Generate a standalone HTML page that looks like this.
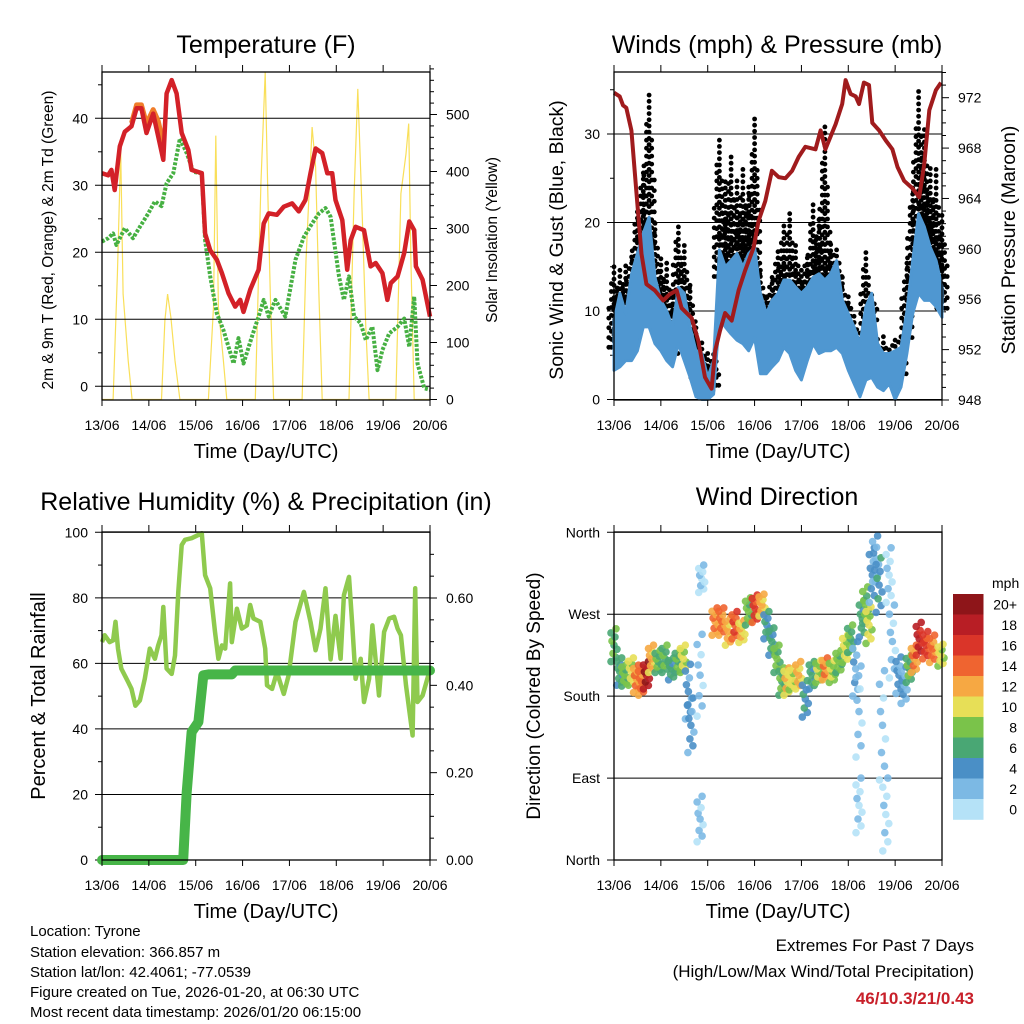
<!DOCTYPE html>
<html><head><meta charset="utf-8"><title>Station Meteogram</title>
<style>
html,body{margin:0;padding:0;background:#fff;}
svg{display:block;font-family:"Liberation Sans",Arial,sans-serif;}
</style></head>
<body>
<svg id="fig" xmlns="http://www.w3.org/2000/svg" width="1024" height="1024" viewBox="0 0 1024 1024">
<rect x="0" y="0" width="1024" height="1024" fill="#fff"/>
<g id="p1"></g>
<g id="p2"></g>
<g id="p3"></g>
<g id="p4"></g>
<g font-size="15" fill="#000">
<text x="30" y="936">Location: Tyrone</text>
<text x="30" y="957">Station elevation: 366.857 m</text>
<text x="30" y="977">Station lat/lon: 42.4061; -77.0539</text>
<text x="30" y="997">Figure created on Tue, 2026-01-20, at 06:30 UTC</text>
<text x="30" y="1017">Most recent data timestamp: 2026/01/20 06:15:00</text>
</g>
<g text-anchor="end">
<text x="974" y="951" font-size="17">Extremes For Past 7 Days</text>
<text x="974" y="977" font-size="17">(High/Low/Max Wind/Total Precipitation)</text>
<text x="974" y="1004" font-size="17" font-weight="bold" fill="#c8202a">46/10.3/21/0.43</text>
</g>
</svg>
<script>
// ---------- DATA ----------
const dayLabels = ["13/06","14/06","15/06","16/06","17/06","18/06","19/06","20/06"];
// Temperature (red, 2m)
const tempHours = [0,3.1,4.8,6.5,9.1,11.7,15.1,17.7,20.2,22.8,26.2,28.8,31.4,33.1,35.7,38.2,40.8,44.2,45.9,51.1,52.8,55.4,58.8,61.4,64.8,68.2,70.8,72.5,75.9,80.2,82.8,85.4,89.6,93.1,97.4,100.8,104.2,106.8,109.4,112.8,115.4,117.9,119.6,123.1,125.6,127.4,129.9,134.2,137.6,140.2,143.6,146.2,147.9,151.4,154.8,157.4,159.9,160.8,164.2,168];
const tempValues = [31.8,31.5,32.3,29.3,35.8,38,38.8,41.5,41.5,37.8,40.7,37.3,33.8,43.7,45.7,43.7,37.8,35.3,32.3,31.8,22.8,20.3,18.9,16.9,13.9,11.9,12.9,11.1,14.4,17.4,24.3,25.8,25.6,26.8,27.3,26.1,27.8,31.8,35.5,34.8,31.8,31.8,27.8,24.8,17.4,21.8,23.8,23.3,17.9,18.4,16.9,12.9,15.4,16.4,19.9,24.6,23.3,17.9,15.9,10.4];
// Temperature (orange, 9m)
const temp9Hours = [15.1,17.7,20.2,22.8,26.2,28.8,31.4];
const temp9Values = [39.3,42,42,39.2,41.3,39.6,36.2];
// Dewpoint (green)
const tdHours = [0,3.1,5.7,7.4,11.7,15.9,19.4,23.7,27.1,30.5,33.1,36.5,39.9,43.4,46.8,51.1,52.8,55.4,58.8,62.2,64.8,67.4,69.9,72.5,76.8,80.2,82.8,85.4,88.8,93.9,99.1,103.4,107.6,111.1,114.5,117.1,118.8,121.4,123.9,126.5,129.1,132.5,135.1,138.5,141.1,143.6,147.1,151.4,154.8,157.4,159.9,161.6,165.1,168];
const tdValues = [21.6,22.1,22.8,21.1,23.6,22.1,23.8,25.8,27.6,26.9,30.3,31.8,37,34.8,32,31.8,21.8,16.4,10.9,8.4,5.9,3.4,7.2,3.4,7.4,10.4,12.9,10.4,12.9,10.4,18.9,22.3,24.3,25.8,26.6,25.3,21.8,16.4,12.9,16.4,10.4,9.4,6.9,8.9,2.4,5.4,7.9,8.9,10.1,5.9,13.4,3.4,-0.3,-0.5];
// Solar insolation (yellow, W/m2)
const solarHours = [0,5.7,7.9,9.6,10.8,13.4,15.4,30.5,32.2,33.6,35.3,37.4,39.9,54.5,57.1,58.3,59.6,62.2,63.9,78.5,81.4,83.6,85,86.2,87.9,102.5,104.5,107.6,109.4,111.1,112.8,126.5,129.1,131,133.4,135.1,136.8,150.5,153.1,155.7,157.1,158.2,159.9,168];
const solarValues = [0,0,220,437,185,68,0,0,139,185,144,68,0,0,162,463,162,68,0,0,378,574,349,185,0,0,244,478,408,185,0,0,361,545,314,127,0,0,361,431,484,244,0,0];
// Winds: sonic wind band (blue) and gust upper envelope (black), 3-hourly
const windHours = [0,3,6,9,12,15,18,21,24,27,30,33,36,39,42,45,48,51,54,57,60,63,66,69,72,75,78,81,84,87,90,93,96,99,102,105,108,111,114,117,120,123,126,129,132,135,138,141,144,147,150,153,156,159,162,165,168];
const windMax = [8.9,12,9.7,14.2,16.5,18.8,20.6,13.8,11.2,10,8.2,12.7,12,8.2,5.5,5.2,2.5,4.4,16.9,15,15.7,16.5,15,16.5,17.2,12,9.7,11.2,12,13.5,13.5,12.7,12,12.7,13.8,14.2,13.5,14.2,15.7,11.2,9.7,8.2,6.3,10.5,12,6.3,5.2,5.2,5.5,5.9,10,15.7,21,19.5,17.2,15.7,12.7];
const windMin = [3.3,3.7,4.4,4.4,5.5,8.2,8.2,6.3,5.5,4.4,3.7,6.3,4.4,2.5,0.3,0,0,0.6,9.3,8.2,7.4,6.7,6.3,5.5,7,2.9,2.9,3.7,4.4,5.9,5.2,3.3,2.2,4.4,6.3,5.2,5.5,5.5,5.9,5.2,3.3,1.8,0.3,2.2,2.5,1.4,1,1.8,0,1.4,5.2,9.7,12,11.2,11.2,10.5,9.3];
const gustMax = [15.4,14.6,15.7,16.5,21.4,26,35,19.9,16.1,15.7,12.7,19.9,18,13.5,8.2,6.7,5.5,5.5,29.7,25.2,27.4,24.8,26.3,24.4,32,15,12,14.2,17.2,19.9,21,18,15,16.5,22.2,20.6,30.8,17.6,17.2,13.8,12,9.7,8.2,17.2,12,7.1,7.4,5.9,7.4,7.8,15.7,24,34.8,30.8,26.3,26,21];
// Station pressure (maroon)
const presHours = [0,2.9,4.6,6.3,8.9,11.5,14.1,16.6,20.9,25.2,28.6,32.1,34.6,39.8,43.2,46.6,50,51.8,54.3,56.9,60.3,63.8,67.2,71.5,74,77.5,80.9,84.3,87.8,91.2,94.6,98,103.2,105.8,108.3,113.5,116.9,118.6,121.2,123.8,125.5,128,130.6,132.3,135.8,139.2,142.6,145.2,148.6,152.9,156.3,158.9,161.5,164.9,167.5];
const presValues = [972.4,972.1,971.4,971.2,969.4,964.4,959.6,957.2,956.7,955.9,956.4,956.7,955.3,954.5,952.7,949.8,948.9,951.9,953.5,954.9,954.3,956.7,958.3,960.1,962.2,963.8,966.2,965.7,965.6,966.2,967.3,968.1,967.9,969.4,967.9,969.9,971.5,973.4,972.3,972.1,971.5,973.2,973,970,969.4,968.6,967.9,966.5,965.4,964.8,964.1,966.7,971,972.6,973.2];
// Relative humidity (light green)
const rhHours = [0,1.4,3.9,5.7,6.9,8.2,9.9,13.4,15.1,17.1,19.4,21.9,24.5,27.1,28.8,30.5,31.4,33.1,35.7,37.4,39.1,40.8,42.5,45.9,51.1,52.8,55.4,57.9,59.6,61.4,63.1,65.6,66.5,69.1,71.6,74.2,75.9,77.6,81.1,83.6,84.5,87.1,89.6,93.1,95.6,99.1,103.4,106.8,109.4,111.9,114.5,117.1,119.6,122.2,123.9,126.5,128.2,129.9,132.5,134.2,136.8,138.5,141.9,144.5,147.1,149.6,151.4,153.1,155.7,159.1,160.4,161.6,164.2,167.6];
const rhValues = [66.5,68.6,66.5,67,72.7,64.5,58.4,54.3,52.2,47.1,48.7,55.3,64.5,61.4,65.5,68.6,77.2,58.4,56.8,62.4,81.8,96.1,97.7,98.2,99.7,86.9,82.9,69.6,61.4,65.5,64.5,84.4,66.5,76.7,70.6,71.6,77.8,73.7,72.7,64.5,53.3,52.2,57.3,50.7,56.3,72.7,81.8,72.7,64,70.6,82.9,61.2,74.5,61.4,80.8,86.4,71.6,55.3,61.4,48.2,55.3,71.6,50.2,69.6,73.7,74.2,70.6,68.6,53.3,38,82.9,48.2,50.2,57.3];
// Accumulated precipitation (dark green, in)
const precipHours = [0,38.2,41.6,43.4,45.9,49.4,51.9,54.5,66.5,68.2,168];
const precipValues = [0,0,0,0.155,0.293,0.316,0.423,0.425,0.425,0.434,0.434];
// Wind direction clusters (deg, 0=N bottom, 360=N top) colored by speed
const dirHours = [0,2.9,5.5,8.9,11.5,14.1,16.6,19.2,22.6,26.1,29.5,32.9,35.5,38.1,39.4,44.1,44.1,44.9,51.8,55.2,58.6,62,65.5,68.9,72.3,75.8,78.3,80.9,83.5,86,88.6,91.2,94.6,98,101.5,104.9,108.3,111.8,115.2,118.6,121.2,123.8,125.5,125.5,127.2,128.9,130.6,132.3,134,135.8,137.5,139.2,140.9,142.6,146,148.6,151.2,153.8,156.3,159.7,163.2,167.5];
const dirValues = [236,207,203,207,199,196,203,221,218,221,210,218,221,185,148,203,45,309,262,262,251,258,251,273,276,280,258,240,221,196,196,199,203,177,203,207,210,207,218,232,243,210,163,60,265,280,258,313,331,302,148,50,313,240,203,192,210,221,243,236,232,225];
const dirSpread = [18,15,12,15,15,15,15,15,12,15,12,12,15,30,30,45,25,15,15,15,15,15,12,15,15,12,15,15,15,15,15,12,15,20,15,12,12,12,12,15,15,30,50,30,20,20,20,30,25,30,60,40,30,40,20,20,15,15,18,15,15,12];
const dirSpeed = [7,6,8,10,13,14,19,12,7,7,6,7,10,4,4,2,2,1,13,14,12,15,11,8,16,12,5,6,8,7,11,10,12,5,6,9,13,9,8,10,7,3,2,1,6,8,10,4,3,5,2,1,1,2,4,3,7,13,18,16,14,10];
const speedLabels = ["20+","18","16","14","12","10","8","6","4","2","0"];
const speedColors = ["#8e1519","#b81e25","#da3529","#ef6430","#f6a843","#e7df57","#7ac34a","#49a774","#4a8fc6","#7cb9e4","#b5e2f7"];

// ---------- HELPERS ----------
const NS = "http://www.w3.org/2000/svg";
function mk(parent, tag, attrs, txt){
  const e = document.createElementNS(NS, tag);
  for (const k in attrs) e.setAttribute(k, attrs[k]);
  if (txt !== undefined) e.textContent = txt;
  parent.appendChild(e);
  return e;
}
function lin(d0,d1,r0,r1){ return v => r0 + (v-d0)*(r1-r0)/(d1-d0); }
function pathD(xs, ys, fx, fy){
  return xs.map((h,i)=>(i?"L":"M")+fx(h).toFixed(1)+","+fy(ys[i]).toFixed(1)).join("");
}
function xAxis(g, L, R, T, B, fx, titleY){
  dayLabels.forEach((lab,i)=>{
    const x = fx(i*24);
    const tb = mk(g,"line",{x1:x,x2:x,y1:B,y2:B+6,stroke:"#000","stroke-width":1});
    
    
    const tt = mk(g,"line",{x1:x,x2:x,y1:T-7,y2:T,stroke:"#000","stroke-width":1});
    
    
    const t = mk(g,"text",{x:x,y:B+30,"font-size":14,"text-anchor":"middle"},lab);
    
    
  });
  const xt = mk(g,"text",{x:(L+R)/2,y:titleY,"font-size":20,"text-anchor":"middle"},"Time (Day/UTC)");
  
  
}
function frame(g,L,R,T,B){
  const f = mk(g,"rect",{x:L,y:T,width:R-L,height:B-T,fill:"none",stroke:"#000","stroke-width":1.3});
  
  
}
function leftTicks(g,L,R,vals,fy,labels,minor,gridExtend){
  vals.forEach((v,i)=>{
    const y = fy(v);
    const gl = mk(g,"line",{x1:L-7,x2:gridExtend?R:L,y1:y,y2:y,stroke:"#000","stroke-width":1});
    
    
    const t = mk(g,"text",{x:L-14,y:y+5,"font-size":14,"text-anchor":"end"},labels[i]);
    
    
  });
  (minor||[]).forEach(v=>{
    const y=fy(v);
    const m = mk(g,"line",{x1:L-4,x2:L,y1:y,y2:y,stroke:"#000","stroke-width":1});
    
    
  });
}
function rightTicks(g,R,vals,fy,labels,minor){
  vals.forEach((v,i)=>{
    const y=fy(v);
    const l = mk(g,"line",{x1:R,x2:R+7,y1:y,y2:y,stroke:"#000","stroke-width":1});
    
    
    const t = mk(g,"text",{x:R+16,y:y+5,"font-size":14},labels[i]);
    
    
  });
  (minor||[]).forEach(v=>{
    const y=fy(v);
    const m = mk(g,"line",{x1:R,x2:R+4,y1:y,y2:y,stroke:"#000","stroke-width":1});
    
    
  });
}
function range(a,b,s){const r=[];for(let v=a;v<=b+1e-9;v+=s)r.push(+v.toFixed(4));return r;}
function title(g,x,y,txt){
  const t = mk(g,"text",{x:x,y:y,"font-size":25,"text-anchor":"middle"},txt);
  
  
}
function vtitle(g,x,y,size,txt,name){
  const t = mk(g,"text",{x:0,y:0,"font-size":size,"text-anchor":"middle",transform:`translate(${x},${y}) rotate(-90)`},txt);
  
  
}

// ---------- PANEL 1: TEMPERATURE ----------
(function(){
  const g = document.getElementById("p1");
  const L=102,R=430,T=72,B=400;
  const fx = lin(0,168,L,R);
  const fy = lin(0,40,386.3,118.3);
  const fs = lin(0,500,399.5,114.5);
  title(g,266,53,"Temperature (F)");
  const sol = mk(g,"path",{d:pathD(solarHours,solarValues,fx,fs),fill:"none",stroke:"#f8d93c","stroke-width":1.2,"stroke-opacity":0.85});
  
  
  leftTicks(g,L,R,[0,10,20,30,40],fy,["0","10","20","30","40"],[5,15,25,35,45],true);
  rightTicks(g,R,[0,100,200,300,400,500],fs,["0","100","200","300","400","500"],range(20,580,20).filter(v=>v%100));
  const td = mk(g,"path",{d:pathD(tdHours,tdValues,fx,fy),fill:"none",stroke:"#46b042","stroke-width":4,"stroke-dasharray":"3 1.6","stroke-linejoin":"round"});
  
  
  const t9 = mk(g,"path",{d:pathD(temp9Hours,temp9Values,fx,fy),fill:"none",stroke:"#f07d2a","stroke-width":5,"stroke-linejoin":"round"});
  
  
  const t2 = mk(g,"path",{d:pathD(tempHours,tempValues,fx,fy),fill:"none",stroke:"#d32128","stroke-width":4.5,"stroke-linejoin":"round"});
  
  
  frame(g,L,R,T,B);
  xAxis(g,L,R,T,B,fx,458);
  vtitle(g,53,240,15.5,"2m & 9m T (Red, Orange) & 2m Td (Green)","y-axis-title");
  vtitle(g,497,240,15.5,"Solar Insolation (Yellow)","y2-axis-title");
})();

// ---------- PANEL 2: WINDS & PRESSURE ----------
(function(){
  const g = document.getElementById("p2");
  const L=614,R=942,T=72,B=400;
  const fx = lin(0,168,L,R);
  const fy = lin(0,30,399.5,134);
  const fp = lin(948,972,400,97.7);
  title(g,777,53,"Winds (mph) & Pressure (mb)");
  leftTicks(g,L,R,[0,10,20,30],fy,["0","10","20","30"],[5,15,25,35],true);
  rightTicks(g,R,range(948,972,4),fp,range(948,972,4).map(String),range(949,974,1).filter(v=>v%4));
  const gust = mk(g,"g",{fill:"#000"});
  
  
  const offs=[-2.6,-1.3,0,1.3,2.6];
  const cut=[0.45,0.2,0,0.3,0.55];
  const stepv=[1.1,0.9,0.7,0.9,1.2];
  windHours.forEach((h,i)=>{
    const lo = Math.max(windMin[i]+1, windMax[i]-3);
    for(let k=0;k<offs.length;k++){
      const top = lo + (gustMax[i]-lo)*(1-cut[k]);
      for(let v=lo; v<=top; v+=stepv[k]){
        const c = mk(gust,"circle",{cx:(fx(h)+offs[k]*2).toFixed(1),cy:fy(v).toFixed(1),r:2.4});
        
        
      }
    }
  });
  const up = windHours.map((h,i)=>fx(h).toFixed(1)+","+fy(windMax[i]).toFixed(1));
  const dn = windHours.map((h,i)=>fx(h).toFixed(1)+","+fy(windMin[i]).toFixed(1)).reverse();
  const band = mk(g,"polygon",{points:up.concat(dn).join(" "),fill:"#4f97d1",stroke:"#4f97d1","stroke-width":3,"stroke-linejoin":"round"});
  
  
  const pr = mk(g,"path",{d:pathD(presHours,presValues,fx,fp),fill:"none",stroke:"#a01b1d","stroke-width":4,"stroke-linejoin":"round"});
  
  
  frame(g,L,R,T,B);
  xAxis(g,L,R,T,B,fx,458);
  vtitle(g,563,240,19.5,"Sonic Wind & Gust (Blue, Black)","y-axis-title");
  vtitle(g,1015,240,19.5,"Station Pressure (Maroon)","y2-axis-title");
})();

// ---------- PANEL 3: RH & PRECIP ----------
(function(){
  const g = document.getElementById("p3");
  const L=102,R=430,T=532,B=860;
  const fx = lin(0,168,L,R);
  const fy = lin(0,100,860,532.3);
  const fr = lin(0,0.6,860,598);
  title(g,266,510,"Relative Humidity (%) & Precipitation (in)");
  leftTicks(g,L,R,[0,20,40,60,80,100],fy,["0","20","40","60","80","100"],[10,30,50,70,90],true);
  rightTicks(g,R,[0,0.2,0.4,0.6],fr,["0.00","0.20","0.40","0.60"],[0.05,0.1,0.15,0.25,0.3,0.35,0.45,0.5,0.55,0.65,0.7]);
  const rh = mk(g,"path",{d:pathD(rhHours,rhValues,fx,fy),fill:"none",stroke:"#8fca4e","stroke-width":4.5,"stroke-linejoin":"round"});
  
  
  const pc = mk(g,"path",{d:pathD(precipHours,precipValues,fx,fr),fill:"none",stroke:"#47b548","stroke-width":10,"stroke-linejoin":"round","stroke-linecap":"round"});
  
  
  frame(g,L,R,T,B);
  xAxis(g,L,R,T,B,fx,918);
  vtitle(g,45,696,20,"Percent & Total Rainfall","y-axis-title");
})();

// ---------- PANEL 4: WIND DIRECTION ----------
(function(){
  const g = document.getElementById("p4");
  const L=614,R=942,T=532,B=860;
  const fx = lin(0,168,L,R);
  const fy = lin(0,360,860,532.3);
  title(g,777,505,"Wind Direction");
  leftTicks(g,L,R,[0,90,180,270,360],fy,["North","East","South","West","North"],[],true);
  const pts = mk(g,"g",{});
  
  
  const fr=[-1,-0.75,-0.5,-0.25,0,0.25,0.5,0.75,1], jx=[-3,2,-1,3,0,-2,1,-3,2];
  function colorFor(s){ const idx = Math.max(0,Math.min(10, 10-Math.floor(s/2))); return speedColors[idx]; }
  dirHours.forEach((h,i)=>{
    for(let k=0;k<fr.length;k++){
      const c = mk(pts,"circle",{cx:(fx(h)+jx[k]).toFixed(1),cy:fy(dirValues[i]+fr[k]*dirSpread[i]).toFixed(1),r:3.8,fill:colorFor(dirSpeed[i]+(k%3-1)),"fill-opacity":0.9});
      
      
    }
  });
  frame(g,L,R,T,B);
  xAxis(g,L,R,T,B,fx,918);
  vtitle(g,540,696,19,"Direction (Colored By Speed)","y-axis-title");
  const lg = mk(g,"g",{});
  
  
  const u = mk(lg,"text",{x:992,y:588,"font-size":14},"mph");
  
  
  const bh = (819.5-594)/speedLabels.length;
  speedLabels.forEach((lab,i)=>{
    const r = mk(lg,"rect",{x:953,y:(594+i*bh).toFixed(2),width:30.5,height:(bh+0.3).toFixed(2),fill:speedColors[i]});
    
    
    const t = mk(lg,"text",{x:1017,y:(594+i*bh+bh/2+5).toFixed(1),"font-size":14,"text-anchor":"end"},lab);
    
    
  });
})();
</script>
</body></html>
